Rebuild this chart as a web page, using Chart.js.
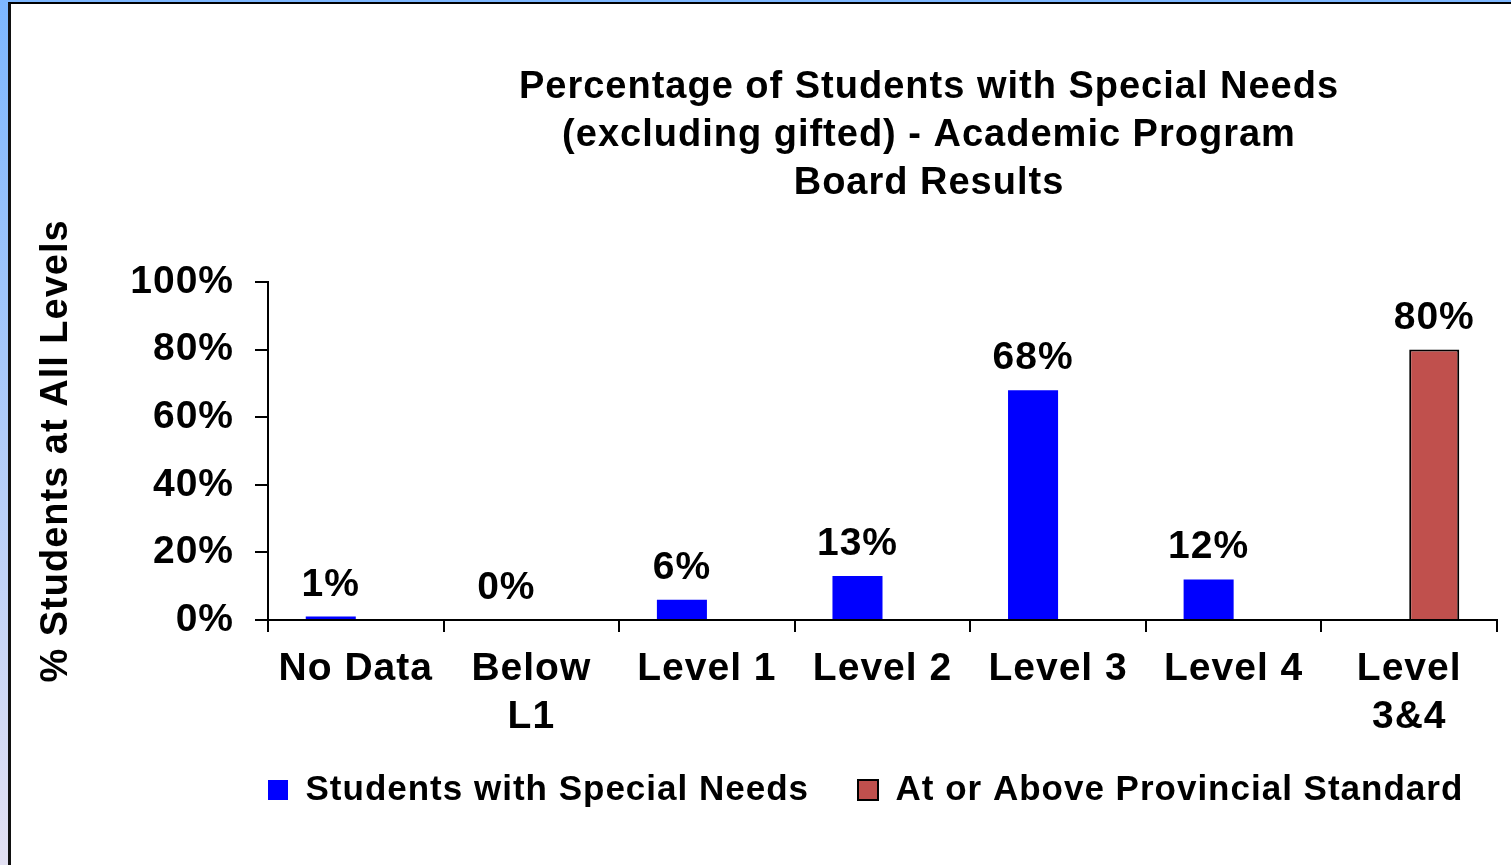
<!DOCTYPE html>
<html>
<head>
<meta charset="utf-8">
<script src="https://cdn.jsdelivr.net/npm/chart.js@4.4.0/dist/chart.umd.min.js"></script>
<style>
  html, body { margin: 0; padding: 0; background: #fff; overflow: hidden; }
  body { width: 1511px; height: 865px; position: relative; }
  #strip { position: absolute; left: 0; top: 0; width: 8px; height: 865px; background: linear-gradient(#7db7ff, #e3e1f3); }
  #topstrip { position: absolute; left: 0; top: 0; width: 1511px; height: 2px; background: #7db7ff; }
  #frame { position: absolute; left: 8px; top: 2px; width: 1500px; height: 863px; border-left: 3px solid #111; border-top: 2px solid #000; background: #fff; }
  #c { position: absolute; left: 11px; top: 5px; }
</style>
</head>
<body>
<div id="strip"></div>
<div id="topstrip"></div>
<div id="frame"></div>
<canvas id="c" width="1500" height="860"></canvas>
<script>
// datos
const categorias = ["No Data", ["Below", "L1"], "Level 1", "Level 2", "Level 3", "Level 4", ["Level", "3&4"]];
const necesidadesEspeciales = [1, 0, 6, 13, 68, 12, null];
const estandarProvincial = [null, null, null, null, null, null, 80];
const ticksY = [0, 20, 40, 60, 80, 100];
const titulo = ["Percentage of Students with Special Needs", "(excluding gifted) - Academic Program", "Board Results"];

const fuente = '"Liberation Sans", Arial, sans-serif';
Chart.defaults.font.family = fuente;
Chart.defaults.font.weight = "bold";
Chart.defaults.color = "#000";

// etiquetas de porcentaje sobre cada barra
const etiquetasBarras = {
  id: "etiquetasBarras",
  afterDatasetsDraw(chart) {
    const ctx = chart.ctx;
    ctx.save();
    ctx.font = `bold 39px ${fuente}`;
    ctx.fillStyle = "#000";
    ctx.textAlign = "center";
    ctx.textBaseline = "alphabetic";
    chart.data.datasets.forEach((ds, i) => {
      chart.getDatasetMeta(i).data.forEach((barra, j) => {
        const valor = ds.data[j];
        if (valor === null) return;
        ctx.fillText(valor + "%", barra.x, barra.y - 21);
      });
    });
    ctx.restore();
  },
};

// acomoda titulo y leyenda como en la diapositiva
const acomodar = {
  id: "acomodar",
  beforeUpdate(chart) {
    chart.ctx.letterSpacing = "1px";
  },
  afterLayout(chart) {
    const t = chart.titleBlock;
    const dx = 918 - (t.left + t.right) / 2;
    t.left += dx;
    t.right += dx;
    const ley = chart.legend;
    ley.left = chart.chartArea.left - ley.options.labels.padding;
    ley.right = chart.width + 300;
    ley.top -= 29;
    ley.bottom -= 29;
  },
};

const ctx = document.getElementById("c");
const grafico = new Chart(ctx, {
  type: "bar",
  data: {
    labels: categorias,
    datasets: [
      {
        label: "Students with Special Needs",
        data: necesidadesEspeciales,
        backgroundColor: "#0000ff",
        borderWidth: 0,
        barPercentage: 1,
        categoryPercentage: 0.57,
      },
      {
        label: "At or Above Provincial Standard",
        data: estandarProvincial,
        backgroundColor: "#c0504d",
        borderColor: "#000",
        borderWidth: 2,
        barPercentage: 1,
        categoryPercentage: 0.57,
      },
    ],
  },
  options: {
    responsive: false,
    animation: false,
    layout: { padding: { left: 0, right: 14, top: 0, bottom: 18.5 } },
    scales: {
      x: {
        grid: { drawOnChartArea: false, tickLength: 12, color: "#000", lineWidth: 2, offset: true },
        border: { color: "#000", width: 2 },
        ticks: { font: { size: 39, lineHeight: "48px" }, padding: 13, maxRotation: 0, autoSkip: false },
        afterFit: (s) => { s.height = 132.5; },
      },
      y: {
        min: 0,
        max: 100,
        afterBuildTicks: (s) => { s.ticks = ticksY.map((v) => ({ value: v })); },
        ticks: { callback: (v) => v + "%", font: { size: 39 }, padding: 21 },
        grid: { drawOnChartArea: false, tickLength: 13, color: "#000", lineWidth: 2 },
        border: { color: "#000", width: 2 },
        title: {
          display: true,
          text: "% Students at All Levels",
          font: { size: 38 },
          padding: { top: 23, bottom: 0 },
        },
        afterFit: (s) => { s.width = 257; },
      },
    },
    plugins: {
      title: {
        display: true,
        text: titulo,
        font: { size: 38, lineHeight: "48px" },
        padding: { top: 59, bottom: 74 },
      },
      legend: {
        position: "bottom",
        align: "start",
        labels: { boxWidth: 20, boxHeight: 20, padding: 49, font: { size: 35 } },
      },
      tooltip: { enabled: false },
    },
  },
  plugins: [etiquetasBarras, acomodar],
});
</script>
</body>
</html>
